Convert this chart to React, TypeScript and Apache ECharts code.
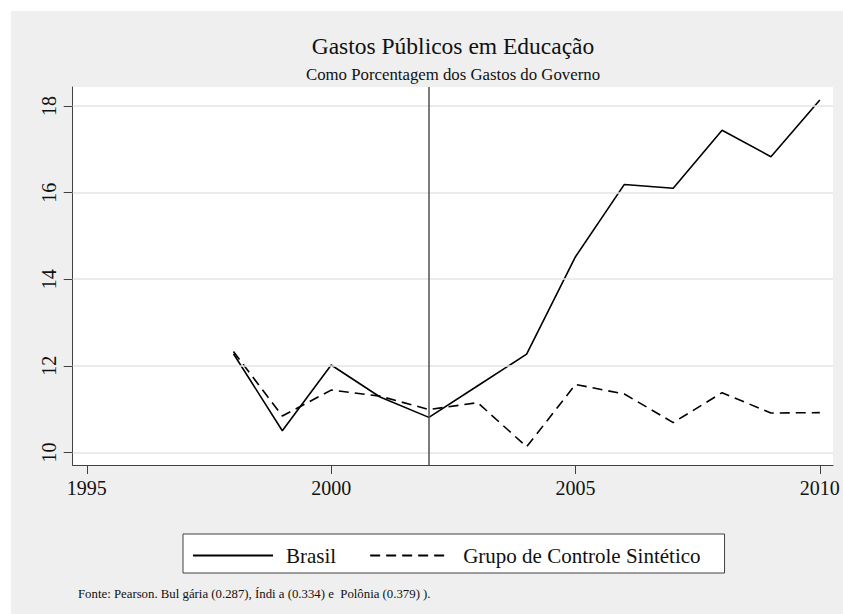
import React, { useEffect, useRef } from "react";
import * as echarts from "echarts";

const years = [1998, 1999, 2000, 2001, 2002, 2003, 2004, 2005, 2006, 2007, 2008, 2009, 2010];
const brasil = [12.28, 10.5, 12.02, 11.28, 10.81, 11.54, 12.27, 14.52, 16.19, 16.1, 17.44, 16.83, 18.14];
const sintetico = [12.33, 10.84, 11.44, 11.3, 10.99, 11.15, 10.13, 11.57, 11.35, 10.69, 11.38, 10.91, 10.92];
const xTicks = [1995, 2000, 2005, 2010];
const yTicks = [10, 12, 14, 16, 18];
const treatmentYear = 2002;

const titleText = "Gastos Públicos em Educação";
const subtitleText = "Como Porcentagem dos Gastos do Governo";
const noteText = "Fonte: Pearson. Bul gária (0.287), Índi a (0.334) e  Polônia (0.379) ).";
const seriesNames = ["Brasil", "Grupo de Controle Sintético"];

const FONT = "Liberation Serif";

export default function App() {
  const ref = useRef<HTMLDivElement>(null);
  useEffect(() => {
    if (!ref.current) return;
    const chart = echarts.init(ref.current, undefined, { renderer: "svg" });
    const axisColor = "#404040";
    const tickRich = {
      t: { fontFamily: FONT, fontWeight: "normal", fontSize: 20, color: "#111", lineHeight: 20 },
    };
    chart.setOption({
      animation: false,
      backgroundColor: "#ffffff",
      textStyle: { fontFamily: FONT, fontWeight: "normal" },
      graphic: {
        elements: [
          {
            type: "rect",
            z: -100,
            silent: true,
            shape: { x: 11, y: 11, width: 832, height: 603 },
            style: { fill: "#efefef" },
          },
        ],
      },
      title: [
        {
          text: titleText,
          left: 453,
          top: 34,
          padding: 0,
          textAlign: "center",
          textStyle: { fontFamily: FONT, fontSize: 23.5, fontWeight: "normal", color: "#111", lineHeight: 23.5 },
        },
        {
          text: subtitleText,
          left: 453,
          top: 66,
          padding: 0,
          textAlign: "center",
          textStyle: { fontFamily: FONT, fontSize: 16.8, fontWeight: "normal", color: "#111", lineHeight: 16.8 },
        },
        {
          text: noteText,
          left: 78,
          top: 588,
          padding: 0,
          textStyle: { fontFamily: FONT, fontSize: 12.8, fontWeight: "normal", color: "#111", lineHeight: 12.8 },
        },
      ],
      grid: {
        left: 72.7,
        right: 10,
        top: 87,
        bottom: 149,
        show: true,
        backgroundColor: "#ffffff",
        borderWidth: 0,
      },
      legend: {
        left: 183,
        top: 534,
        orient: "horizontal",
        padding: [11, 24, 7, 9],
        itemGap: 33,
        itemWidth: 80,
        itemHeight: 14,
        backgroundColor: "#ffffff",
        borderColor: "#404040",
        borderWidth: 1,
        borderRadius: 0,
        data: seriesNames,
        itemStyle: { opacity: 0 },
        formatter: (name: string) => "{n|" + name + "}",
        textStyle: {
          fontFamily: FONT,
          fontWeight: "normal",
          fontSize: 21,
          color: "#111",
          lineHeight: 21,
          padding: [0, 0, 0, 8],
          rich: {
            n: { fontFamily: FONT, fontWeight: "normal", fontSize: 21, color: "#111", lineHeight: 21 },
          },
        },
      },
      xAxis: {
        type: "value",
        min: 1994.71,
        max: 2010.27,
        axisLine: { show: true, onZero: false, lineStyle: { color: axisColor, width: 1 } },
        axisTick: { show: true, length: 9, customValues: xTicks, lineStyle: { color: axisColor } },
        axisLabel: {
          customValues: xTicks,
          formatter: (v: number) => "{t|" + String(v) + "}",
          rich: tickRich,
          margin: 13,
          fontFamily: FONT,
          fontSize: 20,
          color: "#111",
        },
        splitLine: { show: false },
      },
      yAxis: {
        type: "value",
        min: 9.71,
        max: 18.44,
        axisLine: { show: true, onZero: false, lineStyle: { color: axisColor, width: 1 } },
        axisTick: { show: true, length: 9, customValues: yTicks, lineStyle: { color: axisColor } },
        axisLabel: {
          customValues: yTicks,
          formatter: (v: number) => "{t|" + String(v) + "}",
          rich: tickRich,
          rotate: 90,
          margin: 14,
          fontFamily: FONT,
          fontSize: 20,
          color: "#111",
        },
        splitLine: { show: false },
      },
      series: [
        {
          name: "grid",
          type: "line",
          data: [],
          z: 1,
          silent: true,
          markLine: {
            silent: true,
            symbol: "none",
            label: { show: false },
            lineStyle: { color: "#e4e4e4", width: 1.5, type: "solid" },
            data: yTicks.map((v) => ({ yAxis: v })),
          },
        },
        {
          name: "treat",
          type: "line",
          data: [],
          z: 1.5,
          silent: true,
          markLine: {
            silent: true,
            symbol: "none",
            label: { show: false },
            lineStyle: { color: "#505050", width: 1.5, type: "solid" },
            data: [{ xAxis: treatmentYear }],
          },
        },
        {
          name: seriesNames[0],
          type: "line",
          z: 3,
          symbol: "none",
          data: years.map((y, i) => [y, brasil[i]]),
          lineStyle: { color: "#000", width: 1.6, type: "solid" },
          itemStyle: { color: "#000" },
        },
        {
          name: seriesNames[1],
          type: "line",
          z: 3,
          symbol: "none",
          data: years.map((y, i) => [y, sintetico[i]]),
          lineStyle: { color: "#000", width: 1.6, type: [10, 6] },
          itemStyle: { color: "#000" },
        },
      ],
    });
    return () => chart.dispose();
  }, []);
  return (
    <div
      ref={ref}
      style={{ position: "absolute", left: 0, top: 0, width: 843, height: 614 }}
    />
  );
}
